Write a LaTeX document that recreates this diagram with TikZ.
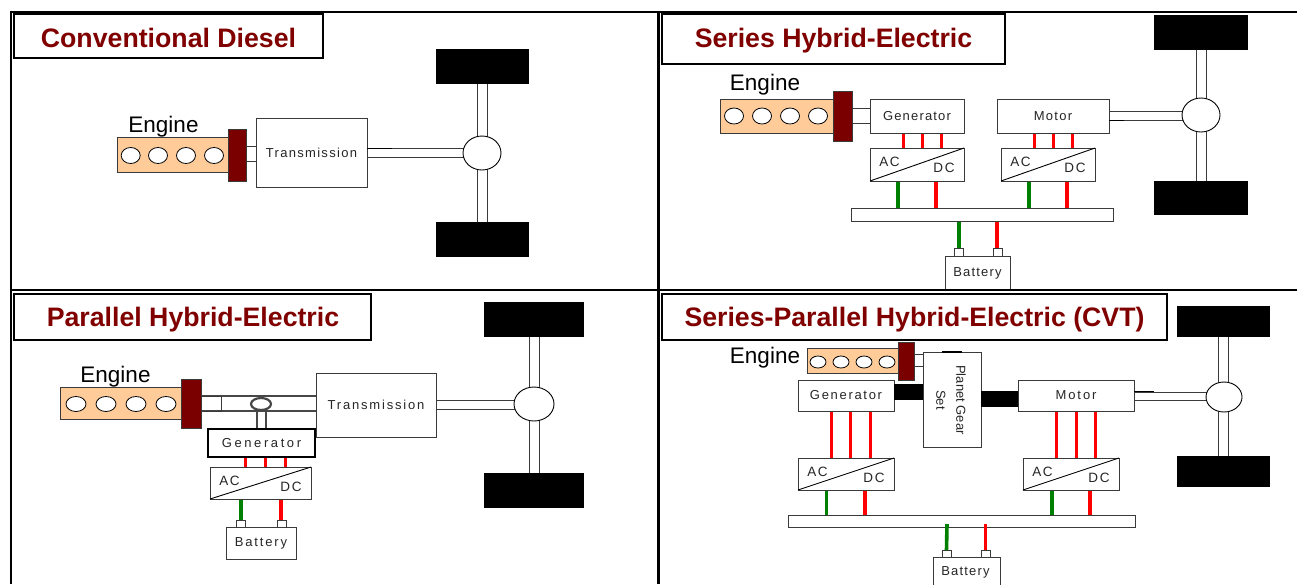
\documentclass[tikz,border=0pt]{standalone}
\usepackage{fontspec}
\setmainfont{Liberation Sans}
\usetikzlibrary{shapes.geometric,backgrounds}
\definecolor{bodyc}{HTML}{FFCC99}
\definecolor{flyc}{HTML}{7A0000}
\definecolor{titlec}{HTML}{800000}
\definecolor{linec}{HTML}{3A3A3A}
\definecolor{wred}{HTML}{FF0000}
\definecolor{wgreen}{HTML}{008000}
\tikzset{
  bx/.style={draw=linec,line width=0.9pt,fill=white,inner sep=0pt,outer sep=0pt,
    font=\fontsize{13}{15}\selectfont,text=black!85},
  titlebox/.style={bx,draw=black,line width=2pt},
  thickbx/.style={bx,draw=black,line width=1.8pt},
  wheelbx/.style={draw=none,fill=black,inner sep=0pt,outer sep=0pt},
  ebody/.style={draw=linec,line width=0.9pt,fill=bodyc,inner sep=0pt,outer sep=0pt},
  fly/.style={draw=linec,line width=0.9pt,fill=flyc,inner sep=0pt,outer sep=0pt},
  cyl/.style={ellipse,draw=black,line width=0.8pt,fill=white,inner sep=0pt,outer sep=0pt},
  diffn/.style={ellipse,draw=black,line width=0.9pt,fill=white,inner sep=0pt,outer sep=0pt},
  shaftline/.style={draw=linec,line width=1pt},
  shafttick/.style={draw=black,line width=0.9pt},
  heavyshaft/.style={draw=black!72,line width=2.2pt},
  redw/.style={draw=wred,line width=3pt},
  redb/.style={draw=wred,line width=3.6pt},
  greenb/.style={draw=wgreen,line width=3.6pt},
  titletext/.style={anchor=base,inner sep=0pt,font=\fontsize{26.7}{30}\selectfont\bfseries,text=titlec},
  enginetext/.style={anchor=base,inner sep=0pt,font=\fontsize{22.5}{26}\selectfont,text=black},
  smalltext/.style={inner sep=0pt,font=\fontsize{13.5}{15}\selectfont,text=black!85},
}
\newcommand\ls[2]{{\addfontfeature{LetterSpace=#1}#2}}
% name, style, x1,y1,x2,y2, text
\newcommand\rbox[7]{\node[#2,minimum width={(#5-#3)*1pt},minimum height={(#6-#4)*1pt}] (#1) at ({(#3+#5)/2},{(#4+#6)/2}) {#7};}
\newcommand\ovl[6]{\node[#2,minimum width={2*#5*1pt},minimum height={2*#6*1pt}] (#1) at (#3,#4) {};}
% converter: name, x1,y1,x2,y2
\newcommand\conv[5]{\rbox{#1}{bx}{#2}{#3}{#4}{#5}{}
  \draw[draw=black,line width=0.9pt] (#1.south west) -- (#1.north east);
  \node[smalltext] (#1ac) at ({#2+19.5},{#3+14}) {\ls{12}{AC}};
  \node[smalltext] (#1dc) at ({#4-20},{#3+19.5}) {\ls{12}{DC}};}
% horizontal connector between node centres at height y
\newcommand\hcon[4]{\draw[#1] (#2.center |- 0,#4) -- (#3.center |- 0,#4);}
% vertical connector between node centres at abscissa x
\newcommand\vcon[4]{\draw[#1] (#2.center -| #4,0) -- (#3.center -| #4,0);}
\begin{document}
\begin{tikzpicture}[x=1pt,y=-1pt]
\useasboundingbox (0,0) rectangle (1297,584);
\begin{pgfonlayer}{background}
\fill[white] (0,0) rectangle (1297,584);
\end{pgfonlayer}

% ===== Panel 1
\rbox{ta}{titlebox}{14}{14}{323}{58}{}
\node[titletext] (tat) at (168.5,47) {Conventional Diesel};
\node[enginetext] (ena) at (163.5,132) {Engine};
\rbox{ba}{ebody}{117}{137}{228}{172}{}
\foreach \cx/\n in {130.7/1,158/2,186/3,214/4}{\ovl{ca\n}{cyl}{\cx}{155.5}{9.5}{8}}
\rbox{fa}{fly}{228}{129}{246}{181}{}
\rbox{tra}{bx}{256}{118}{367}{187}{\ls{10}{Transmission}}
\ovl{da}{diffn}{482}{153}{19}{17}
\rbox{wa}{wheelbx}{436}{49}{529}{84}{}
\rbox{wb}{wheelbx}{436}{222}{529}{257}{}
\begin{pgfonlayer}{background}
\hcon{shaftline}{fa}{tra}{146}\hcon{shaftline}{fa}{tra}{161}
\hcon{shaftline}{tra}{da}{148}\hcon{shaftline}{tra}{da}{157}
\vcon{shaftline}{wa}{da}{477}\vcon{shaftline}{wa}{da}{487}
\vcon{shaftline}{da}{wb}{477}\vcon{shaftline}{da}{wb}{487}
\end{pgfonlayer}
\draw[shafttick] (tra.east |- 0,148) -- ++(25,0);

% ===== Panel 2
\rbox{tb}{titlebox}{662}{14}{1005}{64}{}
\node[titletext] (tbt) at (833.5,47) {Series Hybrid-Electric};
\node[enginetext] (enb) at (765,90.5) {Engine};
\rbox{bb}{ebody}{720}{99}{833}{133}{}
\foreach \cx/\n in {734/1,762/2,790/3,818/4}{\ovl{cb\n}{cyl}{\cx}{116}{9.5}{8}}
\rbox{fb}{fly}{833}{91}{852}{141}{}
\rbox{genb}{bx}{870}{99}{964}{133}{\ls{9}{Generator}}
\rbox{motb}{bx}{997}{99}{1109}{133}{\ls{10}{Motor}}
\conv{cvb}{870}{148}{964}{181}
\conv{cvc}{1001}{148}{1095}{181}
\rbox{busb}{bx}{851}{208}{1113}{221}{}
\rbox{batb}{bx}{945}{256}{1010}{290}{\ls{9}{Battery}}
\rbox{tb1}{bx}{954}{248}{963}{256}{}
\rbox{tb2}{bx}{993}{248}{1002}{256}{}
\ovl{db}{diffn}{1201}{115}{19}{17}
\rbox{wc}{wheelbx}{1154}{15}{1248}{50}{}
\rbox{wd}{wheelbx}{1154}{181}{1248}{215}{}
\begin{pgfonlayer}{background}
\hcon{shaftline}{fb}{genb}{108}\hcon{shaftline}{fb}{genb}{123}
\hcon{shaftline}{motb}{db}{111}\hcon{shaftline}{motb}{db}{120}
\vcon{shaftline}{wc}{db}{1196}\vcon{shaftline}{wc}{db}{1206}
\vcon{shaftline}{db}{wd}{1196}\vcon{shaftline}{db}{wd}{1206}
\foreach \x in {903,922,941}{\vcon{redw}{genb}{cvb}{\x}}
\foreach \x in {1034,1053,1072}{\vcon{redw}{motb}{cvc}{\x}}
\vcon{greenb}{cvb}{busb}{898}\vcon{redb}{cvb}{busb}{936}
\vcon{greenb}{cvc}{busb}{1029}\vcon{redb}{cvc}{busb}{1067}
\vcon{greenb}{busb}{tb1}{959}\vcon{redb}{busb}{tb2}{997}
\end{pgfonlayer}
\draw[shafttick] (motb.east |- 0,120) -- ++(15,0);

% ===== Panel 3
\rbox{tc}{titlebox}{14}{294}{371}{340}{}
\node[titletext] (tct) at (193,326) {Parallel Hybrid-Electric};
\node[enginetext] (enc) at (115.5,382) {Engine};
\rbox{bc}{ebody}{60}{387}{181}{419}{}
\foreach \cx/\n in {76/1,106/2,136/3,166/4}{\ovl{cc\n}{cyl}{\cx}{404}{10}{7.5}}
\rbox{colc}{bx,fill=none}{201}{396}{221}{411}{}
\rbox{fc}{fly}{181}{379}{201}{428}{}
\rbox{trc}{bx}{316}{373}{436}{437}{\ls{14}{Transmission}}
\rbox{genc}{thickbx}{208}{429}{315}{457}{\ls{20}{Generator}}
\conv{cvd}{210}{467}{311}{499}
\rbox{batc}{bx}{226}{527}{296}{559}{\ls{14}{Battery}}
\rbox{tc1}{bx}{236}{520}{245}{527}{}
\rbox{tc2}{bx}{277}{520}{286}{527}{}
\node[ellipse,draw=black!72,line width=2.2pt,fill=white,inner sep=0pt,outer sep=0pt,minimum width=20pt,minimum height=12pt] (gearc) at (261,404) {};
\ovl{dc}{diffn}{534}{404}{20}{17}
\rbox{we}{wheelbx}{484}{302}{584}{337}{}
\rbox{wf}{wheelbx}{484}{473}{584}{508}{}
\begin{pgfonlayer}{background}
\hcon{heavyshaft}{fc}{trc}{396}\hcon{heavyshaft}{fc}{trc}{411}
\vcon{heavyshaft}{gearc}{genc}{257}\vcon{heavyshaft}{gearc}{genc}{266}
\hcon{shaftline}{trc}{dc}{400}\hcon{shaftline}{trc}{dc}{409}
\vcon{shaftline}{we}{dc}{529}\vcon{shaftline}{we}{dc}{539}
\vcon{shaftline}{dc}{wf}{529}\vcon{shaftline}{dc}{wf}{539}
\foreach \x in {245.5,265,285}{\vcon{redw}{genc}{cvd}{\x}}
\vcon{greenb}{cvd}{tc1}{241}\vcon{redb}{cvd}{tc2}{281}
\end{pgfonlayer}

% ===== Panel 4
\rbox{td}{titlebox}{662}{294}{1167}{340}{}
\node[titletext] (tdt) at (914.5,326) {Series-Parallel Hybrid-Electric (CVT)};
\node[enginetext] (end) at (765,363.5) {Engine};
\rbox{bd}{ebody}{807}{348}{898}{373}{}
\foreach \cx/\n in {818/1,841/2,864/3,887/4}{\ovl{cd\n}{cyl}{\cx}{362}{8}{6}}
\rbox{fd}{fly}{898}{342}{914}{380}{}
\rbox{pgs}{bx}{923}{352}{981}{447}{}
\node[rotate=-90,align=center,inner sep=0pt,font=\fontsize{13}{20}\selectfont,text=black!85] (pgst) at (951,400) {Planet Gear\\Set};
\rbox{gend}{bx}{798}{380}{894}{411}{\ls{13}{Generator}}
\rbox{motd}{bx}{1018}{380}{1134}{411}{\ls{15}{Motor}}
\rbox{blka}{wheelbx}{894}{384}{923}{400}{}
\rbox{blkb}{wheelbx}{981}{391}{1018}{407}{}
\conv{cve}{798}{458}{894}{490}
\conv{cvf}{1023}{458}{1119}{490}
\rbox{busd}{bx}{788}{515}{1135}{527}{}
\rbox{batd}{bx}{933}{557}{1000}{592}{}
\node[smalltext,font=\fontsize{13}{15}\selectfont] (batdt) at (965.5,572.5) {\ls{9}{Battery}};
\rbox{td1}{bx}{942}{550}{951}{557}{}
\rbox{td2}{bx}{981}{550}{990}{557}{}
\ovl{dd}{diffn}{1224}{397}{18}{15}
\rbox{wg}{wheelbx}{1177}{306}{1270}{337}{}
\rbox{wh}{wheelbx}{1177}{456}{1270}{487}{}
\draw[draw=black,line width=1.5pt] (pgs.north -| 942,0) -- (pgs.north -| 962,0);
\begin{pgfonlayer}{background}
\hcon{shaftline}{fd}{pgs}{354}\hcon{shaftline}{fd}{pgs}{366}
\hcon{shaftline}{motd}{dd}{392}\hcon{shaftline}{motd}{dd}{400}
\vcon{shaftline}{wg}{dd}{1218.5}\vcon{shaftline}{wg}{dd}{1228}
\vcon{shaftline}{dd}{wh}{1218.5}\vcon{shaftline}{dd}{wh}{1228}
\foreach \x in {831.5,850.5,870}{\vcon{redw}{gend}{cve}{\x}}
\foreach \x in {1056.5,1076,1095}{\vcon{redw}{motd}{cvf}{\x}}
\vcon{greenb}{cve}{busd}{826.5}\vcon{redb}{cve}{busd}{865}
\vcon{greenb}{cvf}{busd}{1052}\vcon{redb}{cvf}{busd}{1090}
\end{pgfonlayer}
\draw[greenb] (busd.south -| 947,0) ++(0,-3) -- (td1.north);
\draw[redb] (busd.south -| 985.5,0) ++(0,-3) -- (td2.north);
\draw[shafttick] (motd.east |- 0,391) -- ++(20,0);

% ===== Frame
\draw[draw=black,line width=2.4pt] (1297,12) -- (11,12) -- (11,584);
\draw[draw=black,line width=2.4pt] (11,290) -- (1297,290);
\draw[draw=black,line width=2.4pt] (658.5,12) -- (658.5,584);
\end{tikzpicture}
\end{document}
